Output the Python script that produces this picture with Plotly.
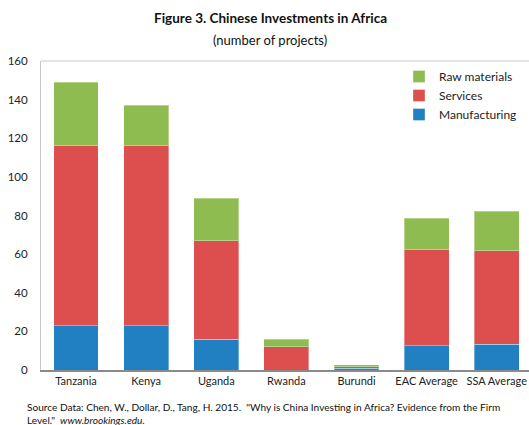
import plotly.graph_objects as go

categories = ["Tanzania", "Kenya", "Uganda", "Rwanda", "Burundi", "EAC Average", "SSA Average"]
manufacturing = [23, 23, 16, 0, 1, 12.5, 13.4]
services = [93, 93, 51, 12, 0.7, 49.7, 48.3]
raw_materials = [33, 21, 22, 4, 1, 16.3, 20.4]
y_ticks = [0, 20, 40, 60, 80, 100, 120, 140, 160]

FONT = "Lato, sans-serif"
L, T, B, W, H = 41, 61, 54.5, 529, 425
pw, ph = W - L, H - T - B

def px(x):
    return (x - L) / pw

def py(y):
    return (H - B - y) / ph

fig = go.Figure()
for name, vals, col in [("Manufacturing", manufacturing, "#2180C1"),
                        ("Services", services, "#DD4F4E"),
                        ("Raw materials", raw_materials, "#8FBC50")]:
    fig.add_trace(go.Bar(x=categories, y=vals, name=name, width=0.64, legendgroup=name,
                         marker=dict(color=col, line=dict(color="rgba(255,255,255,0.35)", width=1))))

fig.update_layout(
    barmode="stack",
    width=W, height=H,
    margin=dict(l=L, r=0, t=T, b=B, autoexpand=False),
    paper_bgcolor="white", plot_bgcolor="white",
    font=dict(family=FONT, size=12, color="#222"),
    showlegend=True,
    legend=dict(x=px(399), y=py(62), xanchor="left", yanchor="top", traceorder="reversed",
                font=dict(size=12, color="#222"), itemwidth=30, tracegroupgap=3,
                bgcolor="rgba(0,0,0,0)"),
    annotations=[
        dict(text="<b>Figure 3. Chinese Investments in Africa</b>", x=px(270), y=py(18),
             font=dict(size=13.5, color="#111")),
        dict(text="(number of projects)", x=px(270), y=py(40),
             font=dict(size=13, color="#111")),
        dict(text="Source Data: Chen, W., Dollar, D., Tang, H. 2015.  \"Why is China Investing in Africa? Evidence from the Firm",
             x=px(25), y=py(408), xanchor="left", font=dict(size=10.1, color="#111")),
        dict(text="Level.\"  <i>www.brookings.edu.</i>",
             x=px(25), y=py(421), xanchor="left", font=dict(size=10.1, color="#111")),
    ],
)
for a in fig.layout.annotations:
    a.xref = "paper"; a.yref = "paper"; a.showarrow = False; a.yanchor = "middle"

fig.update_xaxes(range=[-0.5, 6.46], showline=True, linecolor="#8a8a8a", linewidth=1.5,
                 ticks="", showgrid=False, tickangle=0, automargin=False,
                 tickfont=dict(size=11, color="#222"))
fig.update_yaxes(range=[0, 160], tickvals=y_ticks, showline=True, linecolor="#c8c8c8", linewidth=1,
                 ticks="", showgrid=False, zeroline=False, ticklabelstandoff=10, automargin=False,
                 tickfont=dict(size=11.5, color="#222"))
fig.add_shape(type="line", xref="paper", yref="paper", x0=0, x1=1, y0=1, y1=1,
              line=dict(color="#c8c8c8", width=1))
fig.write_html("out.html", config={"displayModeBar": False},
               post_script="document.body.style.margin='0';document.body.style.overflow='hidden';")
